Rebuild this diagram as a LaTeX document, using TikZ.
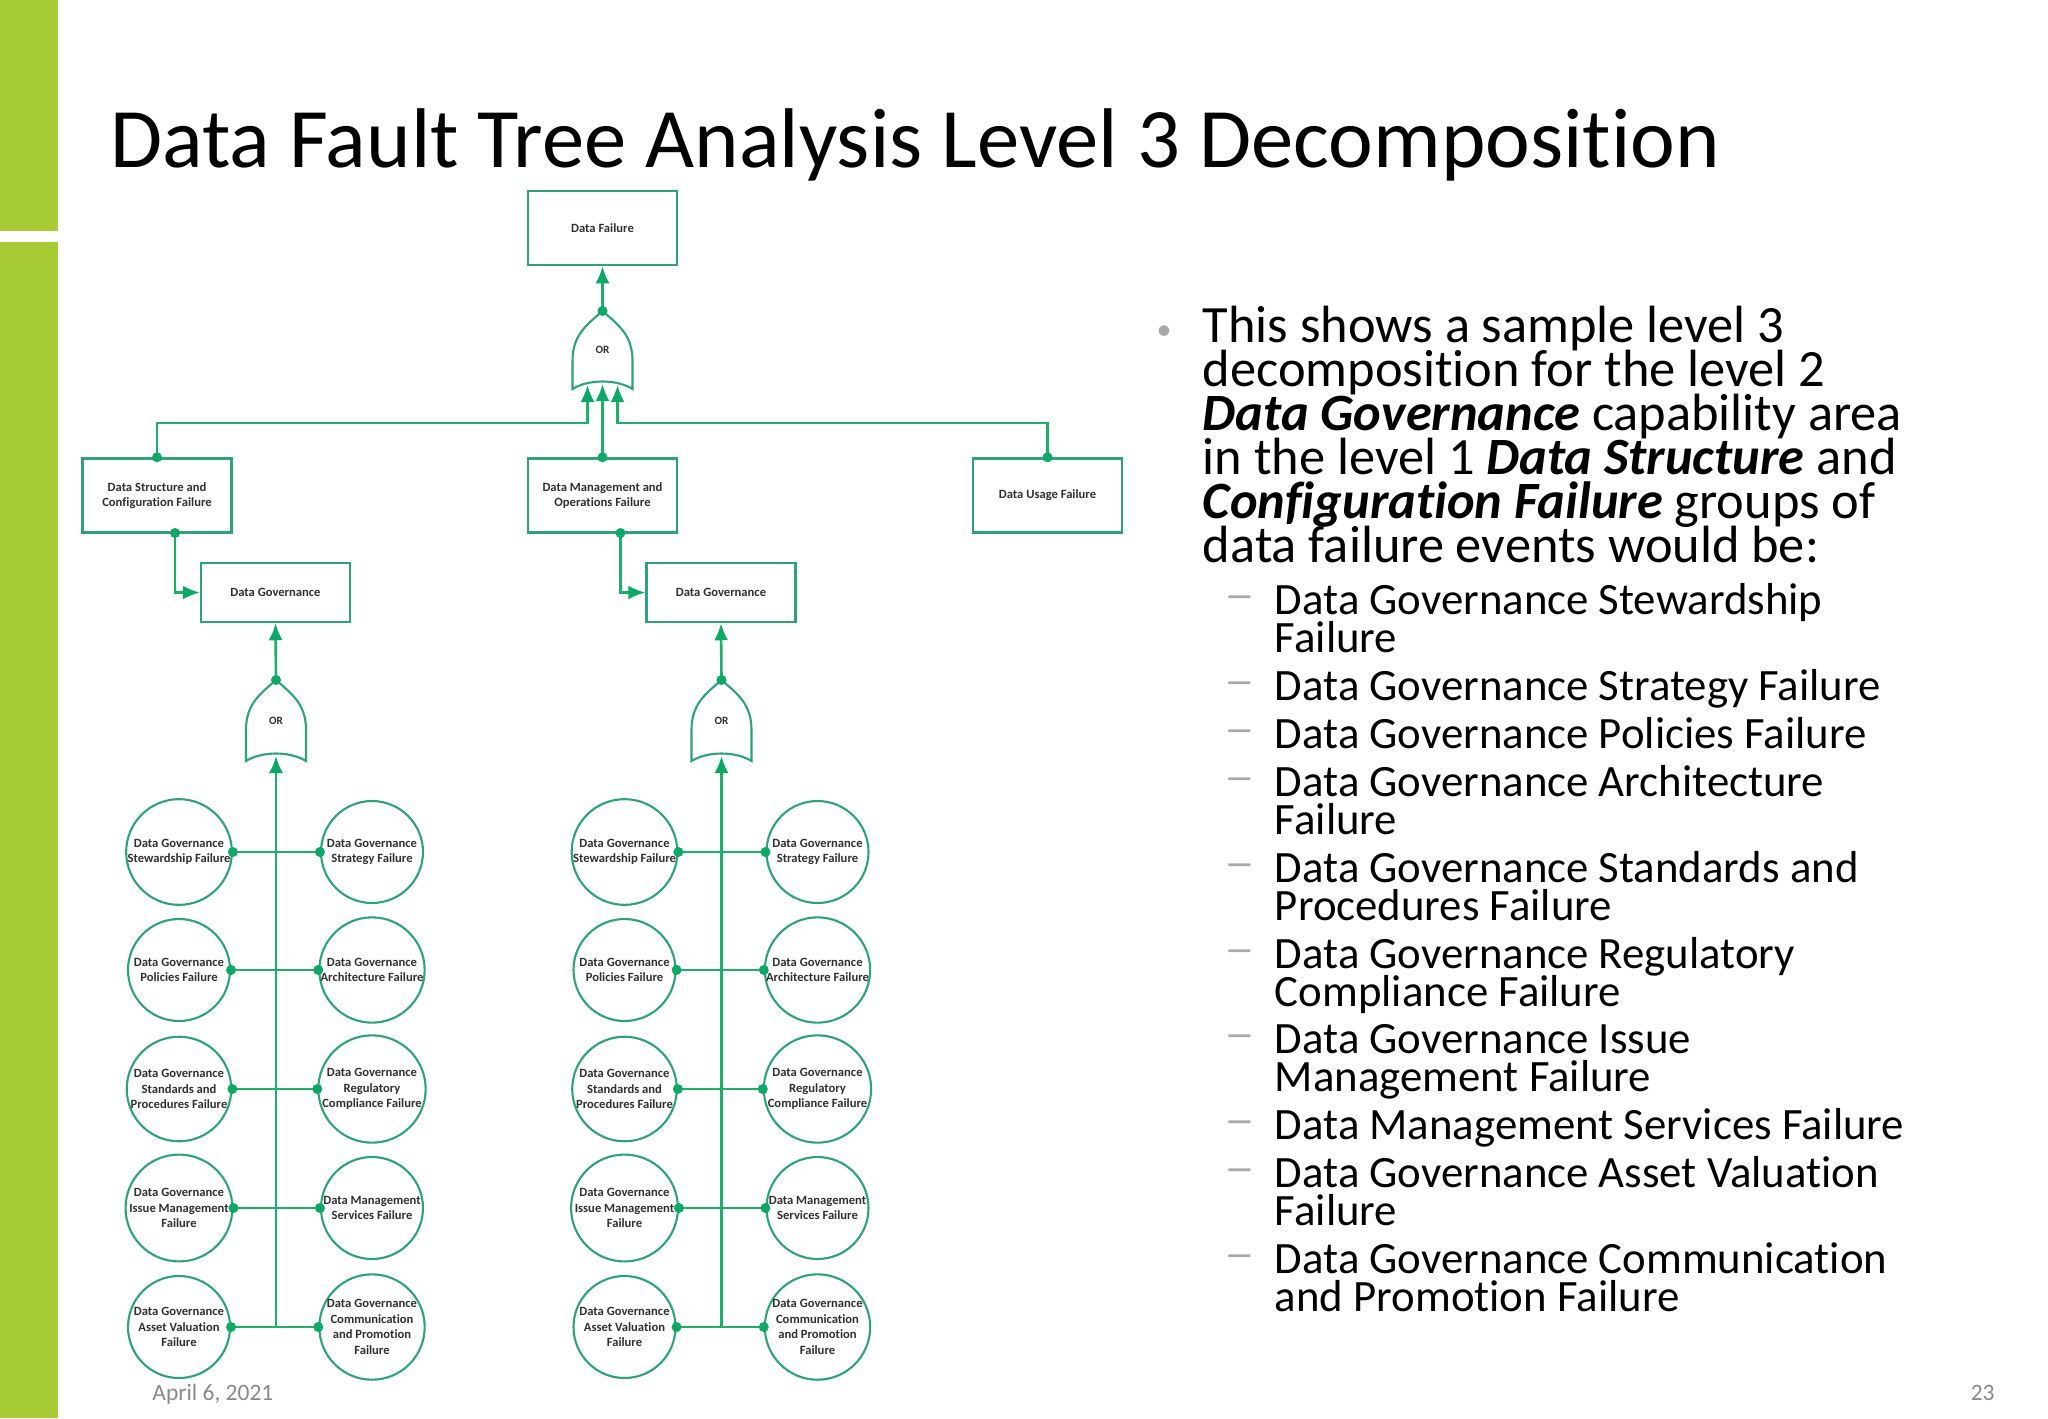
\documentclass[tikz,border=0pt]{standalone}
\usepackage{fontspec}
\usepackage{graphicx}
\setmainfont{Carlito}[RawFeature={-liga;-clig}]
\usetikzlibrary{arrows.meta,calc}
\definecolor{barg}{HTML}{A8CC35}
\definecolor{edgeg}{HTML}{2FA277}
\definecolor{lineg}{HTML}{1FAE6C}
\definecolor{tipg}{HTML}{0DA865}
\definecolor{inkd}{HTML}{303030}
\definecolor{footg}{HTML}{8A8A8A}
\definecolor{dashg}{HTML}{A9A9A9}
\newcommand\firstA{\rule{0pt}{20pt}}
\newcommand\firstB{\rule{0pt}{17pt}}
\AtBeginDocument{\lineskiplimit=-100pt \normallineskiplimit=-100pt \lineskip=0pt \normallineskip=0pt }
\tikzset{
  fbox/.style={draw=edgeg,line width=1.25pt,minimum width=74.5pt,fill=white,inner sep=0pt,align=center,
    font=\fontsize{6.3}{7.2}\selectfont\bfseries,text=inkd},
  fcirc/.style={circle,draw=edgeg,line width=1.05pt,minimum size=51pt,inner sep=0pt,align=center,
    font=\fontsize{6.3}{7.8}\selectfont\bfseries,text=inkd},
  conn/.style={draw=lineg,line width=1.3pt},
  arr/.style={conn,-{Latex[length=8.5pt,width=7pt,color=tipg]}},
  jdot/.style={circle,fill=tipg,inner sep=0pt,minimum size=5pt},
  gatel/.style={inner sep=0pt,font=\fontsize{5.6}{6.5}\selectfont\bfseries,text=inkd},
  para/.style={anchor=north west,inner sep=0pt,align=left,text=black},
  mainp/.style={para,font=\fontsize{26.2}{22}\selectfont},
  subp/.style={para,font=\fontsize{22.4}{19}\selectfont},
  mark1/.style={anchor=base,inner sep=0pt,text=dashg,font=\fontsize{22}{22}\selectfont},
  foot/.style={inner sep=0pt,text=footg,font=\fontsize{11.75}{12}\selectfont}
}
% name, centre x, top y, bottom y
\newcommand\orgate[4]{%
  \draw[draw=edgeg,line width=1.05pt,fill=white] (#2,#3)
    .. controls (#2-16,#3+14) and (#2-30,#3+24) .. (#2-30,#3+50)
    -- (#2-30,#4)
    .. controls (#2-14,#4-10) and (#2+14,#4-10) .. (#2+30,#4)
    -- (#2+30,#3+50)
    .. controls (#2+30,#3+24) and (#2+16,#3+14) .. (#2,#3);
  \node[gatel] (#1) at (#2,{(#3+#4)/2}) {OR};
  \coordinate (#1-top) at (#2,#3);
  \coordinate (#1-bot) at (#2,#4-5);
  \coordinate (#1-l) at (#2-15,#4-4);
  \coordinate (#1-r) at (#2+15,#4-4);
}
\begin{document}
\begin{tikzpicture}[x=0.5pt,y=-0.5pt]
\useasboundingbox (0,0) rectangle (2048,1418);
\fill[white] (0,0) rectangle (2048,1418);
\fill[barg] (0,0) rectangle (57.5,230.5);
\fill[barg] (0,242) rectangle (57.5,1418);

\node[anchor=base west,inner sep=0pt,font=\fontsize{42.35}{44}\selectfont] (title) at (110,167) {Data Fault Tree Analysis Level 3 Decomposition};

% top tree
\node[fbox,minimum height=37pt] (top) at (602.5,228) {Data Failure};
\orgate{g0}{602.5}{311}{389}
\node[fbox,minimum height=37pt] (ds) at (157,495.5) {Data Structure and\\Configuration Failure};
\node[fbox,minimum height=37pt] (dm) at (602.5,495.5) {Data Management and\\Operations Failure};
\node[fbox,minimum height=37pt] (du) at (1047.5,495.5) {Data Usage Failure};

\draw[arr] (g0-top) -- (top.south);
\node[jdot] (d0) at (g0-top) {};
\coordinate (busl) at (ds.north |- 0,423);
\coordinate (busr) at (du.north |- 0,423);
\draw[arr] (ds.north) -- (busl) -| (g0-l);
\draw[arr] (du.north) -- (busr) -| (g0-r);
\draw[arr] (dm.north) -- (g0-bot);
\node[jdot] (d1) at (ds.north) {};
\node[jdot] (d2) at (dm.north) {};
\node[jdot] (d3) at (du.north) {};

% two governance branches
\foreach \g/\dx in {a/0,b/445.5}{
  \node[fbox,minimum height=29.5pt] (dg\g) at (275.5+\dx,592.5) {Data Governance};
  \orgate{g\g}{276+\dx}{680}{761}
  \draw[arr] (g\g-top) -- (dg\g.south);
  \node[jdot] (dt\g) at (g\g-top) {};
  \coordinate (out\g) at (175+\dx,533);
  \draw[arr] (out\g) |- (dg\g.west);
  \node[jdot] (do\g) at (out\g) {};
  \node[fcirc] (\g1) at (179+\dx,852) {Data Governance\\Stewardship Failure};
  \node[fcirc] (\g2) at (372+\dx,852) {Data Governance\\Strategy Failure};
  \node[fcirc] (\g3) at (179+\dx,970) {Data Governance\\Policies Failure};
  \node[fcirc] (\g4) at (372+\dx,970) {Data Governance\\Architecture Failure};
  \node[fcirc] (\g5) at (179+\dx,1089) {Data Governance\\Standards and\\Procedures Failure};
  \node[fcirc] (\g6) at (372+\dx,1089) {Data Governance\\Regulatory\\Compliance Failure};
  \node[fcirc] (\g7) at (179+\dx,1208) {Data Governance\\Issue Management\\Failure};
  \node[fcirc] (\g8) at (372+\dx,1208) {Data Management\\Services Failure};
  \node[fcirc] (\g9) at (179+\dx,1327) {Data Governance\\Asset Valuation\\Failure};
  \node[fcirc] (\g10) at (372+\dx,1327) {Data Governance\\Communication\\and Promotion\\Failure};
  \draw[arr] (\g9.east -| g\g-bot) -- (g\g-bot);
  \foreach \p/\q in {1/2,3/4,5/6,7/8,9/10}{
    \draw[conn] (\g\p.east) -- (\g\q.west);
    \node[jdot] (dl\g\p) at (\g\p.east) {};
    \node[jdot] (dr\g\q) at (\g\q.west) {};
  }
}

% right text
\node[anchor=base,inner sep=0pt,text=dashg,font=\fontsize{15}{15}\selectfont] (bul) at (1164,339) {•};
\node[mainp] (mt) at (1202.5,{342.5-40}) {\firstA This shows a sample level 3\\decomposition for the level 2\\\textbf{\textit{Data Governance}} capability area\\in the level 1 \textbf{\textit{Data Structure}} and\\\textbf{\textit{Configuration Failure}} groups of\\data failure events would be:};

\foreach \nm/\by/\txt in {
  s1/614/{Data Governance Stewardship\\Failure},
  s2/700/{Data Governance Strategy Failure},
  s3/748/{Data Governance Policies Failure},
  s4/796/{Data Governance Architecture\\Failure},
  s5/882/{Data Governance Standards and\\Procedures Failure},
  s6/968/{Data Governance Regulatory\\Compliance Failure},
  s7/1053/{Data Governance Issue\\Management Failure},
  s8/1139/{Data Management Services Failure},
  s9/1187/{Data Governance Asset Valuation\\Failure},
  s10/1273/{Data Governance Communication\\and Promotion Failure}}{
  \node[subp] (\nm) at (1274.5,{\by-34}) {\firstB\txt};
  \node[mark1] (m\nm) at (1240,\by-5) {\scalebox{1.4}[1]{–}};
}

\node[foot,anchor=base west] (date) at (152,1400.5) {April 6, 2021};
\node[foot,anchor=base east] (pg) at (1995,1400.5) {23};
\end{tikzpicture}
\end{document}
